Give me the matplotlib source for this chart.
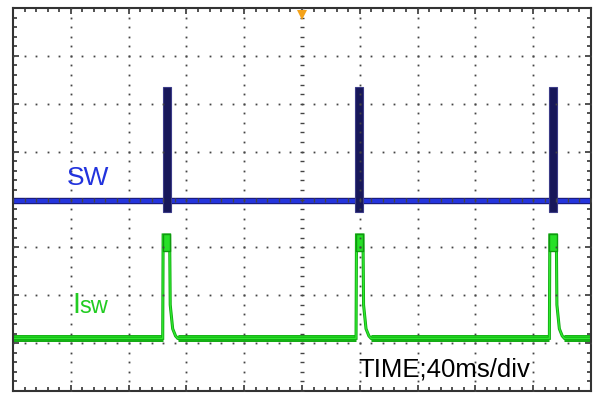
import matplotlib
matplotlib.use("Agg")
import matplotlib.pyplot as plt
import numpy as np

plt.rcParams['font.family'] = ['Liberation Sans', 'DejaVu Sans']

# ---- data (time in ms, amplitude in screen divisions) ----
sw_base_level = -0.03
sw_pulse_center_ms = [106.4, 239.4, 373.7]
sw_pulse_width_ms = [5.5, 5.5, 5.0]
sw_pulse_top = [2.36, 2.36, 2.36]
sw_pulse_bottom = [-0.27, -0.27, -0.27]

isw_t = [0.0, 103.6, 103.9, 108.4, 108.8, 110.5, 112.5, 114.0,
         237.4, 237.7, 242.2, 242.6, 244.3, 246.3, 247.8,
         371.2, 371.5, 376.0, 376.4, 378.1, 380.1, 381.6, 400.0]
isw_v = [-2.90, -2.90, -0.74, -0.74, -2.20, -2.70, -2.85, -2.90,
         -2.90, -0.74, -0.74, -2.20, -2.70, -2.85, -2.90,
         -2.90, -0.74, -0.74, -2.20, -2.70, -2.85, -2.90, -2.90]
isw_base_level = -2.90
isw_base_start = [0.0, 114.0, 247.8, 381.6]
isw_base_end = [103.6, 237.4, 371.2, 400.0]
isw_top_start = [103.6, 237.4, 371.2]
isw_top_end = [108.6, 242.4, 376.2]
isw_top_hi = -0.73
isw_top_lo = -1.08

# ---- figure ----
fig = plt.figure(figsize=(5.95, 3.94), dpi=100)
ax = fig.add_axes([13/595, 3/394, 578/595, 383/394])
ax.set_xlim(0, 400)
ax.set_ylim(-4, 4)

# traces
ax.hlines(sw_base_level, 0, 400, color='#1a1a78', lw=4.6, zorder=2)
ax.hlines(sw_base_level, 0, 400, color='#2434dc', lw=3.0, zorder=2.1)
ax.bar(sw_pulse_center_ms, np.array(sw_pulse_top) - np.array(sw_pulse_bottom),
       width=sw_pulse_width_ms, bottom=sw_pulse_bottom,
       color='#17175a', edgecolor='#3c3c88', lw=0.8, zorder=2.2)

ax.hlines([isw_base_level]*len(isw_base_start), isw_base_start, isw_base_end,
          color='#10a810', lw=5.0, zorder=2)
ax.hlines([isw_base_level]*len(isw_base_start), isw_base_start, isw_base_end,
          color='#22dd22', lw=3.2, zorder=2.1)
ax.plot(isw_t, isw_v, color='#10a810', lw=2.2, zorder=2.2, solid_joinstyle='miter')
ax.plot(isw_t, isw_v, color='#2ee82e', lw=1.0, zorder=2.3)
for a, b in zip(isw_top_start, isw_top_end):
    ax.fill_between([a, b], isw_top_hi, isw_top_lo, color='#28e028',
                    edgecolor='#0e9a0e', lw=1.0, zorder=2.4)

# graticule dots
gx = np.arange(40, 400, 40)
gy = np.arange(-3, 4, 1)
minor_x = np.arange(0, 400.01, 8)
minor_y = np.arange(-4, 4.01, 0.2)
for x in gx:
    if x == 200:
        continue
    ax.plot(np.full_like(minor_y, x), minor_y, ls='none', marker='s',
            ms=1.3, mew=0, color='#444444', zorder=5)
for y in gy:
    if y == 0:
        continue
    ax.plot(minor_x, np.full_like(minor_x, y), ls='none', marker='s',
            ms=1.3, mew=0, color='#444444', zorder=5)
# center crosshair
ax.plot(np.full_like(minor_y, 200), minor_y, ls='none', marker='_',
        ms=3.5, mew=1.0, color='#444444', zorder=5)
ax.plot(minor_x, np.zeros_like(minor_x), ls='none', marker='|',
        ms=3.5, mew=1.0, color='#444444', zorder=5)

# trigger marker
ax.plot([200], [3.86], marker='v', ms=7, color='#f4a21a', mew=0,
        clip_on=False, zorder=6)

# frame + ticks
for s in ax.spines.values():
    s.set_color('#333333')
    s.set_linewidth(1.5)
ax.set_xticks(np.arange(0, 401, 40))
ax.set_yticks(np.arange(-4, 4.1, 1))
ax.set_xticks(minor_x, minor=True)
ax.set_yticks(minor_y, minor=True)
ax.tick_params(which='both', direction='in', top=True, right=True,
               labelbottom=False, labelleft=False, color='#333333', width=1.2)
ax.tick_params(which='major', length=4.5)
ax.tick_params(which='minor', length=3)

# labels
ax.text(37.4, 0.31, 'SW', color='#2233dd', fontsize=19, ha='left',
        va='baseline', zorder=7)
ax.text(40.8, -2.38, 'I', color='#22cc22', fontsize=21, ha='left',
        va='baseline', zorder=7)
ax.text(45.6, -2.38, 'sw', color='#22cc22', fontsize=17, ha='left',
        va='baseline', zorder=7)
ax.text(238.8, -3.70, 'TIME;40ms/div', color='black', fontsize=18.5,
        ha='left', va='baseline', zorder=7)

fig.savefig('out.png', dpi=100)
